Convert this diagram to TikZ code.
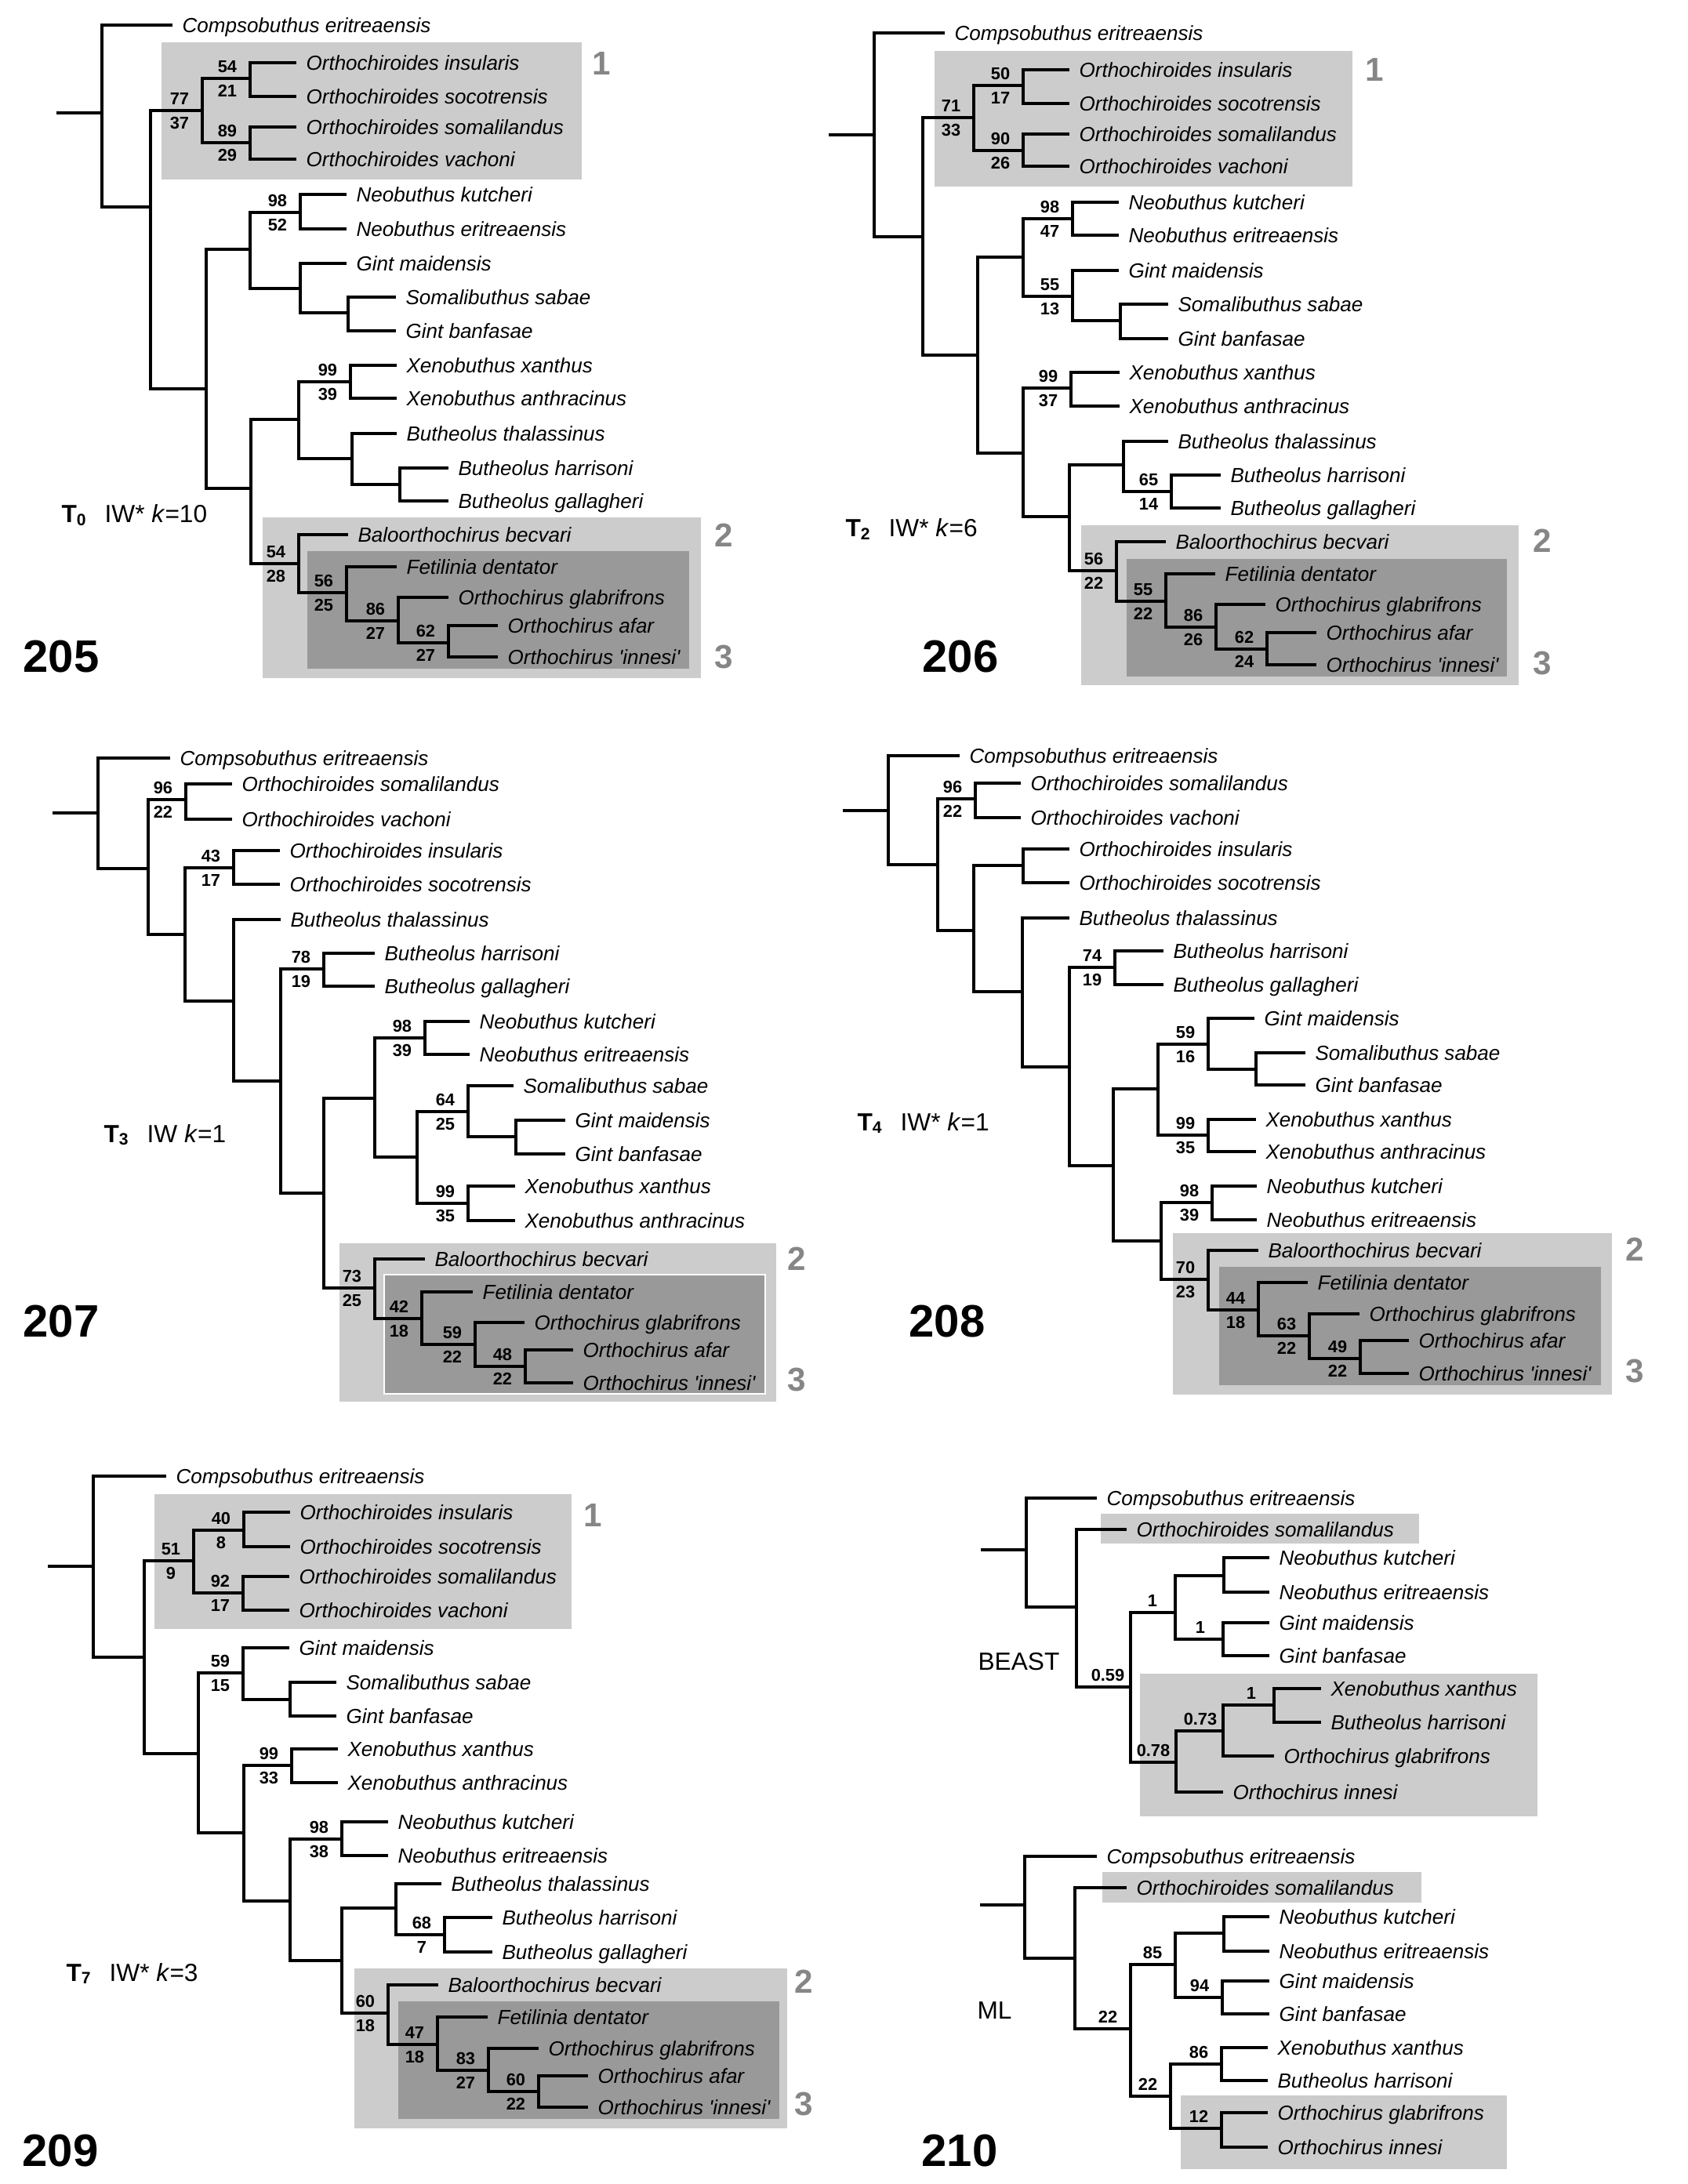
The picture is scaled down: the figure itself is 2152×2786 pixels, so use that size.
\documentclass[tikz,border=0pt]{standalone}
\usepackage{fontspec}
\setmainfont{Liberation Sans}
\usepackage{tikz}
\definecolor{lightbox}{HTML}{CCCCCC}
\definecolor{darkbox}{HTML}{999999}
\definecolor{cladegray}{HTML}{868686}
\tikzset{
  leaf/.style={anchor=west,inner xsep=0.11cm,inner ysep=0pt,text height=5.3pt,text depth=0pt,font=\fontsize{7.4}{9}\selectfont\itshape},
  supval/.style={inner sep=0pt,text height=4.4pt,text depth=0pt,font=\fontsize{6.2}{7}\selectfont\bfseries,xshift=-0.29cm},
  supup/.style={supval,yshift=0.15cm},
  supdn/.style={supval,yshift=-0.16cm},
  cladeno/.style={inner sep=0pt,text height=8.6pt,text depth=0pt,text=cladegray,font=\fontsize{12}{14}\selectfont\bfseries},
  panelno/.style={inner sep=0pt,text height=11.8pt,text depth=0pt,font=\fontsize{16.5}{18}\selectfont\bfseries},
  treelab/.style={anchor=base west,inner sep=0pt,font=\fontsize{9}{11}\selectfont},
  lightclade/.style={fill=lightbox},
  darkclade/.style={fill=darkbox},
}
\newcommand{\bsv}[3]{\node[supup] (#1u) at (#1) {#2}; \node[supdn] (#1d) at (#1) {#3};}
\newcommand{\postp}[2]{\node[supup] (#1u) at (#1) {#2};}

\begin{document}
\begin{tikzpicture}[x=0.01cm,y=-0.01cm,line width=0.032cm]
\useasboundingbox (0,0) rectangle (2152,2786);

\fill[lightclade] (206,54) rectangle (742,229);
\fill[lightclade] (335,660) rectangle (894,865);
\fill[darkclade] (392,703) rectangle (879,853);
\fill[lightclade] (1192,65) rectangle (1725,238);
\fill[lightclade] (1379,670) rectangle (1937,874);
\fill[darkclade] (1437,713) rectangle (1922,863);
\fill[lightclade] (433,1586) rectangle (990,1788);
\filldraw[darkclade,draw=white,line width=0.6pt] (490,1626) rectangle (976,1778);
\fill[lightclade] (1496,1573) rectangle (2056,1779);
\fill[darkclade] (1555,1616) rectangle (2042,1767);
\fill[lightclade] (197,1906) rectangle (729,2078);
\fill[lightclade] (452,2511) rectangle (1004,2715);
\fill[darkclade] (508,2553) rectangle (994,2703);
\fill[lightclade] (1404,1931) rectangle (1810,1969);
\fill[lightclade] (1454,2135) rectangle (1961,2317);
\fill[lightclade] (1406,2388) rectangle (1813,2427);
\fill[lightclade] (1506,2673) rectangle (1922,2767);

\coordinate (a0) at (72,144);
\coordinate (ar) at (130,144);
\coordinate (a1) at (192,264);
\coordinate (a2) at (258,141);
\coordinate (a3) at (319,100);
\coordinate (a4) at (319,182);
\coordinate (a5) at (263,496);
\coordinate (a6) at (319,318);
\coordinate (a7) at (383,271);
\coordinate (a8) at (383,368);
\coordinate (a9) at (444,399);
\coordinate (a10) at (320,623);
\coordinate (a11) at (381,535);
\coordinate (a12) at (447,487);
\coordinate (a13) at (449,585);
\coordinate (a14) at (510,618);
\coordinate (a15) at (381,719);
\coordinate (a16) at (442,756);
\coordinate (a17) at (508,792);
\coordinate (a18) at (572,820);

\node[leaf] (a-comp) at (220,32) {Compsobuthus eritreaensis};
\node[leaf] (a-oins) at (378,80) {Orthochiroides insularis};
\node[leaf] (a-osoc) at (378,123) {Orthochiroides socotrensis};
\node[leaf] (a-osom) at (378,162) {Orthochiroides somalilandus};
\node[leaf] (a-ovac) at (378,203) {Orthochiroides vachoni};
\node[leaf] (a-nkut) at (442,248) {Neobuthus kutcheri};
\node[leaf] (a-neri) at (442,292) {Neobuthus eritreaensis};
\node[leaf] (a-gmai) at (442,336) {Gint maidensis};
\node[leaf] (a-ssab) at (505,379) {Somalibuthus sabae};
\node[leaf] (a-gban) at (505,422) {Gint banfasae};
\node[leaf] (a-xxan) at (506,466) {Xenobuthus xanthus};
\node[leaf] (a-xant) at (506,508) {Xenobuthus anthracinus};
\node[leaf] (a-btha) at (506,553) {Butheolus thalassinus};
\node[leaf] (a-bhar) at (572,597) {Butheolus harrisoni};
\node[leaf] (a-bgal) at (572,639) {Butheolus gallagheri};
\node[leaf] (a-bbec) at (444,682) {Baloorthochirus becvari};
\node[leaf] (a-fden) at (506,723) {Fetilinia dentator};
\node[leaf] (a-ogla) at (572,762) {Orthochirus glabrifrons};
\node[leaf] (a-oafa) at (635,798) {Orthochirus afar};
\node[leaf] (a-oinn) at (635,838) {Orthochirus \textquotesingle innesi\textquotesingle};

\draw (a0) -- (ar);
\draw (ar) |- (a-comp) (ar) |- (a1);
\draw (a1) |- (a2) (a1) |- (a5);
\draw (a2) |- (a3) (a2) |- (a4);
\draw (a3) |- (a-oins) (a3) |- (a-osoc);
\draw (a4) |- (a-osom) (a4) |- (a-ovac);
\draw (a5) |- (a6) (a5) |- (a10);
\draw (a6) |- (a7) (a6) |- (a8);
\draw (a7) |- (a-nkut) (a7) |- (a-neri);
\draw (a8) |- (a-gmai) (a8) |- (a9);
\draw (a9) |- (a-ssab) (a9) |- (a-gban);
\draw (a10) |- (a11) (a10) |- (a15);
\draw (a11) |- (a12) (a11) |- (a13);
\draw (a12) |- (a-xxan) (a12) |- (a-xant);
\draw (a13) |- (a-btha) (a13) |- (a14);
\draw (a14) |- (a-bhar) (a14) |- (a-bgal);
\draw (a15) |- (a-bbec) (a15) |- (a16);
\draw (a16) |- (a-fden) (a16) |- (a17);
\draw (a17) |- (a-ogla) (a17) |- (a18);
\draw (a18) |- (a-oafa) (a18) |- (a-oinn);

\bsv{a2}{77}{37} \bsv{a3}{54}{21} \bsv{a4}{89}{29} \bsv{a7}{98}{52} \bsv{a12}{99}{39}
\bsv{a15}{54}{28} \bsv{a16}{56}{25} \bsv{a17}{86}{27} \bsv{a18}{62}{27}

\node[cladeno] (a-c1) at (767,80) {1};
\node[cladeno] (a-c2) at (923,682) {2};
\node[cladeno] (a-c3) at (923,837) {3};
\node[treelab] (a-lab) at (77,667) {{\bfseries T\textsubscript{0}}\hspace{0.7em}IW* \textit{k}=10};
\node[panelno] (a-no) at (78,837) {205};

\coordinate (b0) at (1057,172);
\coordinate (br) at (1115,172);
\coordinate (b1) at (1177,302);
\coordinate (b2) at (1242,150);
\coordinate (b3) at (1305,109);
\coordinate (b4) at (1305,192);
\coordinate (b5) at (1247,453);
\coordinate (b6) at (1305,328);
\coordinate (b7) at (1368,279);
\coordinate (b8) at (1368,378);
\coordinate (b9) at (1429,409);
\coordinate (b10) at (1305,578);
\coordinate (b11) at (1366,495);
\coordinate (b12) at (1364,659);
\coordinate (b13) at (1433,593);
\coordinate (b14) at (1494,627);
\coordinate (b15) at (1424,728);
\coordinate (b16) at (1487,767);
\coordinate (b17) at (1551,800);
\coordinate (b18) at (1616,828);

\node[leaf] (b-comp) at (1205,42) {Compsobuthus eritreaensis};
\node[leaf] (b-oins) at (1364,89) {Orthochiroides insularis};
\node[leaf] (b-osoc) at (1364,132) {Orthochiroides socotrensis};
\node[leaf] (b-osom) at (1364,171) {Orthochiroides somalilandus};
\node[leaf] (b-ovac) at (1364,212) {Orthochiroides vachoni};
\node[leaf] (b-nkut) at (1427,258) {Neobuthus kutcheri};
\node[leaf] (b-neri) at (1427,300) {Neobuthus eritreaensis};
\node[leaf] (b-gmai) at (1427,345) {Gint maidensis};
\node[leaf] (b-ssab) at (1490,388) {Somalibuthus sabae};
\node[leaf] (b-gban) at (1490,432) {Gint banfasae};
\node[leaf] (b-xxan) at (1428,475) {Xenobuthus xanthus};
\node[leaf] (b-xant) at (1428,518) {Xenobuthus anthracinus};
\node[leaf] (b-btha) at (1490,563) {Butheolus thalassinus};
\node[leaf] (b-bhar) at (1557,606) {Butheolus harrisoni};
\node[leaf] (b-bgal) at (1557,648) {Butheolus gallagheri};
\node[leaf] (b-bbec) at (1487,691) {Baloorthochirus becvari};
\node[leaf] (b-fden) at (1550,732) {Fetilinia dentator};
\node[leaf] (b-ogla) at (1614,771) {Orthochirus glabrifrons};
\node[leaf] (b-oafa) at (1679,807) {Orthochirus afar};
\node[leaf] (b-oinn) at (1679,848) {Orthochirus \textquotesingle innesi\textquotesingle};

\draw (b0) -- (br);
\draw (br) |- (b-comp) (br) |- (b1);
\draw (b1) |- (b2) (b1) |- (b5);
\draw (b2) |- (b3) (b2) |- (b4);
\draw (b3) |- (b-oins) (b3) |- (b-osoc);
\draw (b4) |- (b-osom) (b4) |- (b-ovac);
\draw (b5) |- (b6) (b5) |- (b10);
\draw (b6) |- (b7) (b6) |- (b8);
\draw (b7) |- (b-nkut) (b7) |- (b-neri);
\draw (b8) |- (b-gmai) (b8) |- (b9);
\draw (b9) |- (b-ssab) (b9) |- (b-gban);
\draw (b10) |- (b11) (b10) |- (b12);
\draw (b11) |- (b-xxan) (b11) |- (b-xant);
\draw (b12) |- (b13) (b12) |- (b15);
\draw (b13) |- (b-btha) (b13) |- (b14);
\draw (b14) |- (b-bhar) (b14) |- (b-bgal);
\draw (b15) |- (b-bbec) (b15) |- (b16);
\draw (b16) |- (b-fden) (b16) |- (b17);
\draw (b17) |- (b-ogla) (b17) |- (b18);
\draw (b18) |- (b-oafa) (b18) |- (b-oinn);

\bsv{b2}{71}{33} \bsv{b3}{50}{17} \bsv{b4}{90}{26} \bsv{b7}{98}{47} \bsv{b8}{55}{13}
\bsv{b11}{99}{37} \bsv{b14}{65}{14} \bsv{b15}{56}{22} \bsv{b16}{55}{22} \bsv{b17}{86}{26}
\bsv{b18}{62}{24}

\node[cladeno] (b-c1) at (1753,88) {1};
\node[cladeno] (b-c2) at (1967,689) {2};
\node[cladeno] (b-c3) at (1967,845) {3};
\node[treelab] (b-lab) at (1077,685) {{\bfseries T\textsubscript{2}}\hspace{0.7em}IW* \textit{k}=6};
\node[panelno] (b-no) at (1225,837) {206};

\coordinate (c0) at (67,1037);
\coordinate (cr) at (125,1037);
\coordinate (c1) at (189,1108);
\coordinate (c2) at (237,1020);
\coordinate (c3) at (236,1192);
\coordinate (c4) at (298,1107);
\coordinate (c5) at (298,1277);
\coordinate (c6) at (358,1379);
\coordinate (c7) at (413,1236);
\coordinate (c8) at (413,1522);
\coordinate (c9) at (478,1401);
\coordinate (c10) at (542,1324);
\coordinate (c11) at (532,1476);
\coordinate (c12) at (597,1418);
\coordinate (c13) at (658,1450);
\coordinate (c14) at (597,1535);
\coordinate (c15) at (478,1643);
\coordinate (c16) at (538,1682);
\coordinate (c17) at (606,1715);
\coordinate (c18) at (670,1743);

\node[leaf] (c-comp) at (217,967) {Compsobuthus eritreaensis};
\node[leaf] (c-osom) at (296,1000) {Orthochiroides somalilandus};
\node[leaf] (c-ovac) at (296,1045) {Orthochiroides vachoni};
\node[leaf] (c-oins) at (357,1085) {Orthochiroides insularis};
\node[leaf] (c-osoc) at (357,1128) {Orthochiroides socotrensis};
\node[leaf] (c-btha) at (358,1173) {Butheolus thalassinus};
\node[leaf] (c-bhar) at (478,1216) {Butheolus harrisoni};
\node[leaf] (c-bgal) at (478,1258) {Butheolus gallagheri};
\node[leaf] (c-nkut) at (599,1303) {Neobuthus kutcheri};
\node[leaf] (c-neri) at (599,1345) {Neobuthus eritreaensis};
\node[leaf] (c-ssab) at (655,1385) {Somalibuthus sabae};
\node[leaf] (c-gmai) at (721,1429) {Gint maidensis};
\node[leaf] (c-gban) at (721,1472) {Gint banfasae};
\node[leaf] (c-xxan) at (657,1513) {Xenobuthus xanthus};
\node[leaf] (c-xant) at (657,1557) {Xenobuthus anthracinus};
\node[leaf] (c-bbec) at (542,1606) {Baloorthochirus becvari};
\node[leaf] (c-fden) at (603,1648) {Fetilinia dentator};
\node[leaf] (c-ogla) at (669,1687) {Orthochirus glabrifrons};
\node[leaf] (c-oafa) at (731,1722) {Orthochirus afar};
\node[leaf] (c-oinn) at (731,1764) {Orthochirus \textquotesingle innesi\textquotesingle};

\draw (c0) -- (cr);
\draw (cr) |- (c-comp) (cr) |- (c1);
\draw (c1) |- (c2) (c1) |- (c3);
\draw (c2) |- (c-osom) (c2) |- (c-ovac);
\draw (c3) |- (c4) (c3) |- (c5);
\draw (c4) |- (c-oins) (c4) |- (c-osoc);
\draw (c5) |- (c-btha) (c5) |- (c6);
\draw (c6) |- (c7) (c6) |- (c8);
\draw (c7) |- (c-bhar) (c7) |- (c-bgal);
\draw (c8) |- (c9) (c8) |- (c15);
\draw (c9) |- (c10) (c9) |- (c11);
\draw (c10) |- (c-nkut) (c10) |- (c-neri);
\draw (c11) |- (c12) (c11) |- (c14);
\draw (c12) |- (c-ssab) (c12) |- (c13);
\draw (c13) |- (c-gmai) (c13) |- (c-gban);
\draw (c14) |- (c-xxan) (c14) |- (c-xant);
\draw (c15) |- (c-bbec) (c15) |- (c16);
\draw (c16) |- (c-fden) (c16) |- (c17);
\draw (c17) |- (c-ogla) (c17) |- (c18);
\draw (c18) |- (c-oafa) (c18) |- (c-oinn);

\bsv{c2}{96}{22} \bsv{c4}{43}{17} \bsv{c7}{78}{19} \bsv{c10}{98}{39} \bsv{c12}{64}{25}
\bsv{c14}{99}{35} \bsv{c15}{73}{25} \bsv{c16}{42}{18} \bsv{c17}{59}{22} \bsv{c18}{48}{22}

\node[cladeno] (c-c2) at (1016,1605) {2};
\node[cladeno] (c-c3) at (1016,1759) {3};
\node[treelab] (c-lab) at (131,1457) {{\bfseries T\textsubscript{3}}\hspace{0.7em}IW \textit{k}=1};
\node[panelno] (c-no) at (78,1685) {207};

\coordinate (d0) at (1075,1034);
\coordinate (dr) at (1133,1034);
\coordinate (d1) at (1196,1103);
\coordinate (d2) at (1244,1019);
\coordinate (d3) at (1242,1187);
\coordinate (d4) at (1305,1104);
\coordinate (d5) at (1304,1265);
\coordinate (d6) at (1364,1361);
\coordinate (d7) at (1422,1234);
\coordinate (d8) at (1420,1487);
\coordinate (d9) at (1477,1389);
\coordinate (d10) at (1541,1332);
\coordinate (d11) at (1602,1364);
\coordinate (d12) at (1541,1448);
\coordinate (d13) at (1481,1583);
\coordinate (d14) at (1546,1534);
\coordinate (d15) at (1541,1632);
\coordinate (d16) at (1605,1671);
\coordinate (d17) at (1670,1704);
\coordinate (d18) at (1735,1733);

\node[leaf] (d-comp) at (1224,964) {Compsobuthus eritreaensis};
\node[leaf] (d-osom) at (1302,999) {Orthochiroides somalilandus};
\node[leaf] (d-ovac) at (1302,1043) {Orthochiroides vachoni};
\node[leaf] (d-oins) at (1364,1083) {Orthochiroides insularis};
\node[leaf] (d-osoc) at (1364,1126) {Orthochiroides socotrensis};
\node[leaf] (d-btha) at (1364,1171) {Butheolus thalassinus};
\node[leaf] (d-bhar) at (1484,1213) {Butheolus harrisoni};
\node[leaf] (d-bgal) at (1484,1256) {Butheolus gallagheri};
\node[leaf] (d-gmai) at (1600,1299) {Gint maidensis};
\node[leaf] (d-ssab) at (1665,1343) {Somalibuthus sabae};
\node[leaf] (d-gban) at (1665,1384) {Gint banfasae};
\node[leaf] (d-xxan) at (1602,1428) {Xenobuthus xanthus};
\node[leaf] (d-xant) at (1602,1469) {Xenobuthus anthracinus};
\node[leaf] (d-nkut) at (1603,1513) {Neobuthus kutcheri};
\node[leaf] (d-neri) at (1603,1556) {Neobuthus eritreaensis};
\node[leaf] (d-bbec) at (1605,1595) {Baloorthochirus becvari};
\node[leaf] (d-fden) at (1668,1636) {Fetilinia dentator};
\node[leaf] (d-ogla) at (1734,1676) {Orthochirus glabrifrons};
\node[leaf] (d-oafa) at (1797,1710) {Orthochirus afar};
\node[leaf] (d-oinn) at (1797,1752) {Orthochirus \textquotesingle innesi\textquotesingle};

\draw (d0) -- (dr);
\draw (dr) |- (d-comp) (dr) |- (d1);
\draw (d1) |- (d2) (d1) |- (d3);
\draw (d2) |- (d-osom) (d2) |- (d-ovac);
\draw (d3) |- (d4) (d3) |- (d5);
\draw (d4) |- (d-oins) (d4) |- (d-osoc);
\draw (d5) |- (d-btha) (d5) |- (d6);
\draw (d6) |- (d7) (d6) |- (d8);
\draw (d7) |- (d-bhar) (d7) |- (d-bgal);
\draw (d8) |- (d9) (d8) |- (d13);
\draw (d9) |- (d10) (d9) |- (d12);
\draw (d10) |- (d-gmai) (d10) |- (d11);
\draw (d11) |- (d-ssab) (d11) |- (d-gban);
\draw (d12) |- (d-xxan) (d12) |- (d-xant);
\draw (d13) |- (d14) (d13) |- (d15);
\draw (d14) |- (d-nkut) (d14) |- (d-neri);
\draw (d15) |- (d-bbec) (d15) |- (d16);
\draw (d16) |- (d-fden) (d16) |- (d17);
\draw (d17) |- (d-ogla) (d17) |- (d18);
\draw (d18) |- (d-oafa) (d18) |- (d-oinn);

\bsv{d2}{96}{22} \bsv{d7}{74}{19} \bsv{d10}{59}{16} \bsv{d12}{99}{35} \bsv{d14}{98}{39}
\bsv{d15}{70}{23} \bsv{d16}{44}{18} \bsv{d17}{63}{22} \bsv{d18}{49}{22}

\node[cladeno] (d-c2) at (2085,1593) {2};
\node[cladeno] (d-c3) at (2085,1748) {3};
\node[treelab] (d-lab) at (1092,1442) {{\bfseries T\textsubscript{4}}\hspace{0.7em}IW* \textit{k}=1};
\node[panelno] (d-no) at (1208,1685) {208};

\coordinate (e0) at (61,1998);
\coordinate (er) at (119,1998);
\coordinate (e1) at (184,2114);
\coordinate (e2) at (247,1991);
\coordinate (e3) at (311,1952);
\coordinate (e4) at (310,2032);
\coordinate (e5) at (253,2237);
\coordinate (e6) at (310,2134);
\coordinate (e7) at (370,2168);
\coordinate (e8) at (311,2338);
\coordinate (e9) at (372,2252);
\coordinate (e10) at (370,2425);
\coordinate (e11) at (436,2346);
\coordinate (e12) at (436,2501);
\coordinate (e13) at (505,2434);
\coordinate (e14) at (567,2468);
\coordinate (e15) at (495,2568);
\coordinate (e16) at (558,2608);
\coordinate (e17) at (623,2641);
\coordinate (e18) at (687,2668);

\node[leaf] (e-comp) at (212,1883) {Compsobuthus eritreaensis};
\node[leaf] (e-oins) at (370,1929) {Orthochiroides insularis};
\node[leaf] (e-osoc) at (370,1973) {Orthochiroides socotrensis};
\node[leaf] (e-osom) at (369,2011) {Orthochiroides somalilandus};
\node[leaf] (e-ovac) at (369,2054) {Orthochiroides vachoni};
\node[leaf] (e-gmai) at (369,2102) {Gint maidensis};
\node[leaf] (e-ssab) at (429,2146) {Somalibuthus sabae};
\node[leaf] (e-gban) at (429,2189) {Gint banfasae};
\node[leaf] (e-xxan) at (431,2231) {Xenobuthus xanthus};
\node[leaf] (e-xant) at (431,2274) {Xenobuthus anthracinus};
\node[leaf] (e-nkut) at (495,2324) {Neobuthus kutcheri};
\node[leaf] (e-neri) at (495,2367) {Neobuthus eritreaensis};
\node[leaf] (e-btha) at (563,2403) {Butheolus thalassinus};
\node[leaf] (e-bhar) at (628,2446) {Butheolus harrisoni};
\node[leaf] (e-bgal) at (628,2490) {Butheolus gallagheri};
\node[leaf] (e-bbec) at (559,2532) {Baloorthochirus becvari};
\node[leaf] (e-fden) at (622,2573) {Fetilinia dentator};
\node[leaf] (e-ogla) at (687,2613) {Orthochirus glabrifrons};
\node[leaf] (e-oafa) at (750,2648) {Orthochirus afar};
\node[leaf] (e-oinn) at (750,2688) {Orthochirus \textquotesingle innesi\textquotesingle};

\draw (e0) -- (er);
\draw (er) |- (e-comp) (er) |- (e1);
\draw (e1) |- (e2) (e1) |- (e5);
\draw (e2) |- (e3) (e2) |- (e4);
\draw (e3) |- (e-oins) (e3) |- (e-osoc);
\draw (e4) |- (e-osom) (e4) |- (e-ovac);
\draw (e5) |- (e6) (e5) |- (e8);
\draw (e6) |- (e-gmai) (e6) |- (e7);
\draw (e7) |- (e-ssab) (e7) |- (e-gban);
\draw (e8) |- (e9) (e8) |- (e10);
\draw (e9) |- (e-xxan) (e9) |- (e-xant);
\draw (e10) |- (e11) (e10) |- (e12);
\draw (e11) |- (e-nkut) (e11) |- (e-neri);
\draw (e12) |- (e13) (e12) |- (e15);
\draw (e13) |- (e-btha) (e13) |- (e14);
\draw (e14) |- (e-bhar) (e14) |- (e-bgal);
\draw (e15) |- (e-bbec) (e15) |- (e16);
\draw (e16) |- (e-fden) (e16) |- (e17);
\draw (e17) |- (e-ogla) (e17) |- (e18);
\draw (e18) |- (e-oafa) (e18) |- (e-oinn);

\bsv{e2}{51}{9} \bsv{e3}{40}{8} \bsv{e4}{92}{17} \bsv{e6}{59}{15} \bsv{e9}{99}{33}
\bsv{e11}{98}{38} \bsv{e14}{68}{7} \bsv{e15}{60}{18} \bsv{e16}{47}{18} \bsv{e17}{83}{27}
\bsv{e18}{60}{22}

\node[cladeno] (e-c1) at (756,1932) {1};
\node[cladeno] (e-c2) at (1025,2527) {2};
\node[cladeno] (e-c3) at (1025,2683) {3};
\node[treelab] (e-lab) at (83,2527) {{\bfseries T\textsubscript{7}}\hspace{0.7em}IW* \textit{k}=3};
\node[panelno] (e-no) at (77,2743) {209};

\coordinate (f0) at (1251,1977);
\coordinate (fr) at (1309,1977);
\coordinate (f1) at (1373,2050);
\coordinate (f2) at (1442,2152);
\coordinate (f3) at (1499,2057);
\coordinate (f4) at (1561,2010);
\coordinate (f5) at (1560,2091);
\coordinate (f6) at (1500,2248);
\coordinate (f7) at (1560,2208);
\coordinate (f8) at (1625,2175);

\node[leaf] (f-comp) at (1399,1911) {Compsobuthus eritreaensis};
\node[leaf] (f-osom) at (1437,1951) {Orthochiroides somalilandus};
\node[leaf] (f-nkut) at (1619,1987) {Neobuthus kutcheri};
\node[leaf] (f-neri) at (1619,2031) {Neobuthus eritreaensis};
\node[leaf] (f-gmai) at (1619,2070) {Gint maidensis};
\node[leaf] (f-gban) at (1619,2112) {Gint banfasae};
\node[leaf] (f-xxan) at (1685,2154) {Xenobuthus xanthus};
\node[leaf] (f-bhar) at (1685,2197) {Butheolus harrisoni};
\node[leaf] (f-ogla) at (1625,2240) {Orthochirus glabrifrons};
\node[leaf] (f-oinn) at (1560,2286) {Orthochirus innesi};

\draw (f0) -- (fr);
\draw (fr) |- (f-comp) (fr) |- (f1);
\draw (f1) |- (f-osom) (f1) |- (f2);
\draw (f2) |- (f3) (f2) |- (f6);
\draw (f3) |- (f4) (f3) |- (f5);
\draw (f4) |- (f-nkut) (f4) |- (f-neri);
\draw (f5) |- (f-gmai) (f5) |- (f-gban);
\draw (f6) |- (f7) (f6) |- (f-oinn);
\draw (f7) |- (f8) (f7) |- (f-ogla);
\draw (f8) |- (f-xxan) (f8) |- (f-bhar);

\postp{f2}{0.59} \postp{f3}{1} \postp{f5}{1} \postp{f6}{0.78} \postp{f7}{0.73} \postp{f8}{1}

\node[treelab] (f-lab) at (1246,2130) {BEAST};

\coordinate (g0) at (1250,2430);
\coordinate (gr) at (1307,2430);
\coordinate (g1) at (1371,2498);
\coordinate (g2) at (1442,2588);
\coordinate (g3) at (1499,2506);
\coordinate (g4) at (1561,2466);
\coordinate (g5) at (1559,2548);
\coordinate (g6) at (1493,2674);
\coordinate (g7) at (1558,2633);
\coordinate (g8) at (1558,2715);

\node[leaf] (g-comp) at (1399,2368) {Compsobuthus eritreaensis};
\node[leaf] (g-osom) at (1437,2408) {Orthochiroides somalilandus};
\node[leaf] (g-nkut) at (1619,2445) {Neobuthus kutcheri};
\node[leaf] (g-neri) at (1619,2489) {Neobuthus eritreaensis};
\node[leaf] (g-gmai) at (1619,2527) {Gint maidensis};
\node[leaf] (g-gban) at (1619,2569) {Gint banfasae};
\node[leaf] (g-xxan) at (1617,2612) {Xenobuthus xanthus};
\node[leaf] (g-bhar) at (1617,2654) {Butheolus harrisoni};
\node[leaf] (g-ogla) at (1617,2695) {Orthochirus glabrifrons};
\node[leaf] (g-oinn) at (1617,2739) {Orthochirus innesi};

\draw (g0) -- (gr);
\draw (gr) |- (g-comp) (gr) |- (g1);
\draw (g1) |- (g-osom) (g1) |- (g2);
\draw (g2) |- (g3) (g2) |- (g6);
\draw (g3) |- (g4) (g3) |- (g5);
\draw (g4) |- (g-nkut) (g4) |- (g-neri);
\draw (g5) |- (g-gmai) (g5) |- (g-gban);
\draw (g6) |- (g7) (g6) |- (g8);
\draw (g7) |- (g-xxan) (g7) |- (g-bhar);
\draw (g8) |- (g-ogla) (g8) |- (g-oinn);

\postp{g2}{22} \postp{g3}{85} \postp{g5}{94} \postp{g6}{22} \postp{g7}{86} \postp{g8}{12}

\node[treelab] (g-lab) at (1245,2575) {ML};
\node[panelno] (g-no) at (1224,2743) {210};

\end{tikzpicture}
\end{document}
